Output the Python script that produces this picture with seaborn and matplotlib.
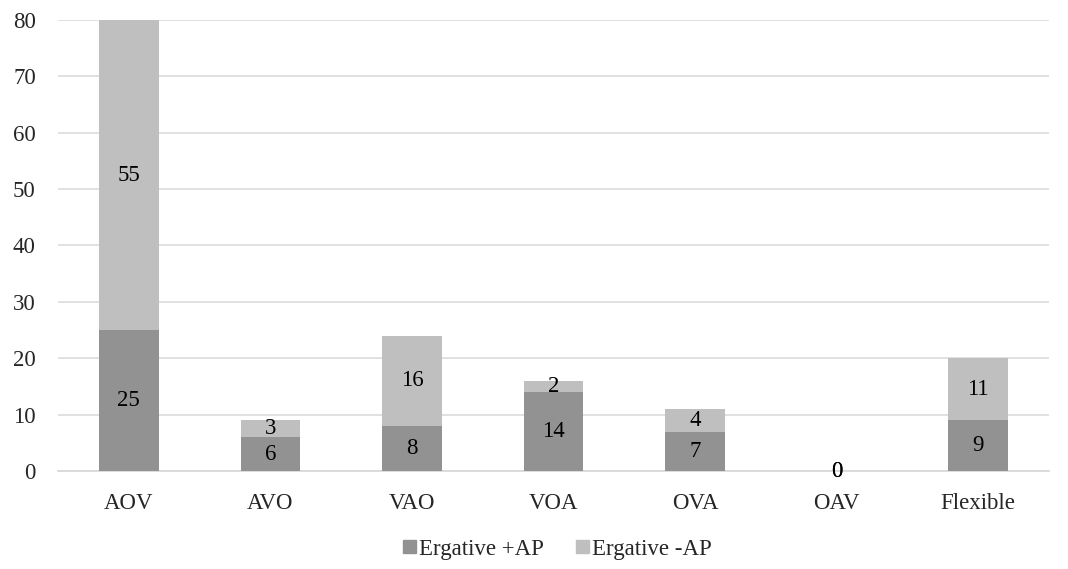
import matplotlib
matplotlib.use("Agg")
import matplotlib.pyplot as plt
import seaborn as sns
import numpy as np
import pandas as pd
from matplotlib.patches import Patch

# Word order counts
orders = ["AOV", "AVO", "VAO", "VOA", "OVA", "OAV", "Flexible"]
erg_plus_ap = [25, 6, 8, 14, 7, 0, 9]
erg_minus_ap = [55, 3, 16, 2, 4, 0, 11]

df = pd.DataFrame({"order": orders, "plus": erg_plus_ap, "minus": erg_minus_ap})
df["total"] = df["plus"] + df["minus"]

dark = "#929292"
light = "#bfbfbf"
fs = 16.5

sns.set_theme(style="white")
plt.rcParams["font.family"] = ["Liberation Serif", "DejaVu Serif"]

fig = plt.figure(figsize=(10.68, 5.69), dpi=100)
ax = fig.add_axes([58 / 1068, 0.1722, 991 / 1068, 0.7927])

# totals behind, bottom segment in front -> stacked look
sns.barplot(data=df, x="order", y="total", color=light, saturation=1,
            width=0.42, ax=ax, zorder=2, linewidth=0, edgecolor="none")
sns.barplot(data=df, x="order", y="plus", color=dark, saturation=1,
            width=0.42, ax=ax, zorder=3, linewidth=0, edgecolor="none")

for i, row in df.iterrows():
    ax.text(i, row["plus"] / 2, str(row["plus"]), ha="center", va="center",
            fontsize=fs, color="black", zorder=4)
    ax.text(i, row["plus"] + row["minus"] / 2, str(row["minus"]), ha="center",
            va="center", fontsize=fs, color="black", zorder=4)

ax.set_ylim(0, 80)
ax.set_xlim(-0.5, len(orders) - 0.5)
ax.set_yticks(np.arange(0, 81, 10))
ax.yaxis.grid(True, color="#d9d9d9", linewidth=1.1, zorder=0)
ax.set_axisbelow(True)
for s in ["top", "right", "left"]:
    ax.spines[s].set_visible(False)
ax.spines["bottom"].set_color("#d9d9d9")
ax.spines["bottom"].set_linewidth(1.3)
ax.set_xlabel("")
ax.set_ylabel("")
ax.tick_params(axis="y", length=0, pad=16, labelsize=fs)
ax.tick_params(axis="x", length=0, pad=16, labelsize=fs)

handles = [Patch(color=dark, label="Ergative +AP"),
           Patch(color=light, label="Ergative -AP")]
fig.legend(handles=handles, loc="center", bbox_to_anchor=(0.522, 0.035),
           ncol=2, frameon=False, fontsize=fs, handlelength=0.55,
           handleheight=0.55, handletextpad=0.15, columnspacing=1.4)

fig.savefig("out.png", dpi=100)
